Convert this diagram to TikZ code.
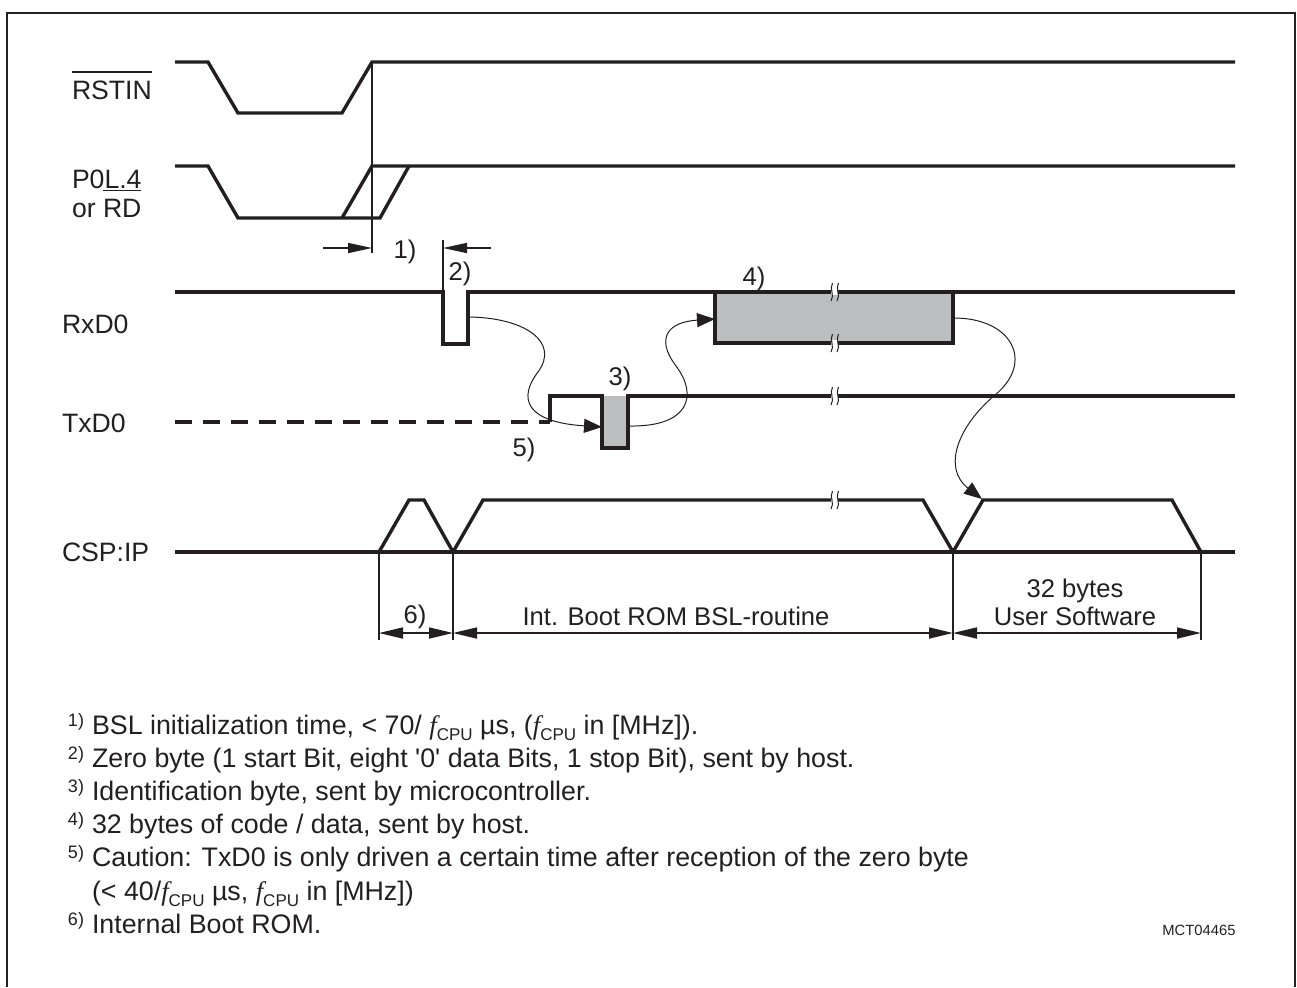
\documentclass[tikz,border=0pt]{standalone}
\usepackage{fontspec}
\setmainfont{Liberation Sans}[Ligatures=TeXOff]
\newfontfamily\serifit{Liberation Serif}[Ligatures=TeXOff]
\usetikzlibrary{arrows.meta}
\definecolor{ink}{HTML}{231F20}
\definecolor{boxgray}{HTML}{BCBEC0}
\newcommand\ovl[1]{\vbox{\hrule height 0.8pt\kern 3.8pt\hbox{#1}}}
\newcommand\fcpu{{\serifit\itshape f}\raisebox{-3pt}{\fontsize{8.5}{9}\selectfont CPU}}
\newcommand\fnm[1]{\llap{\raisebox{3.8pt}{\fontsize{9}{9}\selectfont #1)}\hspace{4pt}}}
\tikzset{
  sig/.style={line width=1.7pt, draw=ink, line join=miter},
  thinl/.style={line width=0.85pt, draw=ink},
  curv/.style={line width=0.5pt, draw=ink, -{Triangle[length=9pt,width=7pt]}},
  dimar/.style={line width=0.85pt, draw=ink, {Triangle[length=12pt,width=5.5pt]}-{Triangle[length=12pt,width=5.5pt]}},
  onear/.style={line width=0.85pt, draw=ink, -{Triangle[length=12pt,width=5pt]}},
  lbl/.style={anchor=base west, inner sep=0pt, outer sep=0pt, text=ink, font=\fontsize{13.3}{16}\selectfont},
  dlbl/.style={anchor=base, inner sep=0pt, outer sep=0pt, text=ink, font=\fontsize{12.8}{15}\selectfont},
  fn/.style={anchor=base west, inner sep=0pt, outer sep=0pt, text=ink, font=\fontsize{13.4}{16}\selectfont},
  brkmark/.pic={
    \fill[white] (-3.5,-3) rectangle (3.5,3);
    \draw[ink, line width=0.5pt] (-1.5,-9) .. controls (-5,-3) and (1,3) .. (-3,9);
    \draw[ink, line width=0.5pt] (4.5,-9) .. controls (1,-3) and (7,3) .. (3,9);
  }
}
\begin{document}
\begin{tikzpicture}[x=0.5pt, y=-0.5pt]
\useasboundingbox (0,0) rectangle (1297,987);
% frame
\draw[ink, line width=1.3pt] (7,987) -- (7,13) -- (1295,13) -- (1295,987);

% signal labels
\node[lbl] (rstin) at (72,99) {\ovl{RSTIN}};
\node[lbl] (p0l) at (72,188) {P0L.4};
\node[lbl] (ord) at (72,217) {or \ovl{RD}};
\node[lbl] (rxd) at (62,333) {RxD0};
\node[lbl] (txd) at (62,432) {TxD0};
\node[lbl] (csp) at (62,561) {CSP:IP};

% RSTIN
\draw[sig] (175,62) -- (208,62) -- (238,113) -- (342,113) -- (372,62) -- (1235,62);
\draw[thinl] (372,62) -- (372,253);

% P0L.4 / RD
\draw[sig] (175,166) -- (208,166) -- (238,218) -- (380,218) -- (409,166);
\draw[sig] (342,218) -- (372,166) -- (1235,166);

% 1) and 2) markers
\coordinate (a1s) at (323,248);
\coordinate (a1e) at (372,248);
\draw[onear] (a1s) -- (a1e);
\node[dlbl] (l1) at (405,258) {1)};
\coordinate (a2s) at (491,248);
\coordinate (a2e) at (443,248);
\draw[onear] (a2s) -- (a2e);
\draw[thinl] (443,240) -- (443,292);
\node[dlbl] (l2) at (460,280) {2)};

% RxD0
\draw[sig] (175,292) -- (443,292) -- (443,344) -- (468,344) -- (468,292) -- (1235,292);
\draw[sig, fill=boxgray] (715,292) rectangle (953,343);
\node[dlbl] (l4) at (754,285) {4)};

% TxD0
\draw[sig, dash pattern=on 8.5pt off 5.5pt] (175,422) -- (550,422);
\fill[boxgray] (602,396) rectangle (628,448);
\draw[sig] (550,422) -- (550,396) -- (602,396) -- (602,448) -- (628,448) -- (628,396) -- (1235,396);
\node[dlbl] (l3) at (620,385) {3)};
\node[dlbl] (l5) at (524,456) {5)};

% CSP:IP
\draw[sig] (175,552) -- (1235,552);
\draw[sig] (379,552) -- (409,500) -- (424,500) -- (453,552) -- (483,500) -- (923,500) -- (953,552) -- (983,500) -- (1172,500) -- (1201,552);

% break marks
\pic at (834,292) {brkmark};
\pic at (834,343) {brkmark};
\pic at (834,396) {brkmark};
\pic at (834,500) {brkmark};

% curved arrows
\coordinate (c1s) at (470,317);
\coordinate (c1e) at (602,427);
\draw[curv] (c1s) .. controls (525,318) and (560,342) .. (538,372) .. controls (518,398) and (525,422) .. (c1e);
\coordinate (c2s) at (629,426);
\coordinate (c2e) at (715,319);
\draw[curv] (c2s) .. controls (690,427) and (698,395) .. (676,366) .. controls (655,338) and (668,322) .. (c2e);
\coordinate (c3s) at (954,318);
\coordinate (c3e) at (982,499);
\draw[curv] (c3s) .. controls (1012,318) and (1035,362) .. (995,395) .. controls (958,426) and (942,468) .. (c3e);

% dimension lines
\draw[thinl] (379,552) -- (379,640);
\draw[thinl] (453,552) -- (453,640);
\draw[thinl] (953,552) -- (953,640);
\draw[thinl] (1201,552) -- (1201,640);
\coordinate (d1) at (379,633);
\coordinate (d2) at (453,633);
\coordinate (d3) at (953,633);
\coordinate (d4) at (1201,633);
\draw[dimar] (d1) -- (d2);
\draw[dimar] (d2) -- (d3);
\draw[dimar] (d3) -- (d4);
\node[dlbl] (l6) at (415,623) {6)};
\node[dlbl] (lint) at (676,625) {Int. Boot ROM BSL-routine};
\node[dlbl] (l32a) at (1075,597) {32 bytes};
\node[dlbl] (l32b) at (1075,625) {User Software};

% footnotes
\node[fn] (f1) at (92,734) {\fnm{1}BSL initialization time, < 70/ \fcpu{} µs, (\fcpu{} in [MHz]).};
\node[fn] (f2) at (92,767) {\fnm{2}Zero byte (1 start Bit, eight '0' data Bits, 1 stop Bit), sent by host.};
\node[fn] (f3) at (92,800) {\fnm{3}Identification byte, sent by microcontroller.};
\node[fn] (f4) at (92,833) {\fnm{4}32 bytes of code / data, sent by host.};
\node[fn] (f5) at (92,866) {\fnm{5}Caution: TxD0 is only driven a certain time after reception of the zero byte};
\node[fn] (f5b) at (92,900) {(< 40/\fcpu{} µs, \fcpu{} in [MHz])};
\node[fn] (f6) at (92,933) {\fnm{6}Internal Boot ROM.};
\node[anchor=base east, inner sep=0pt, text=ink, font=\fontsize{7.4}{9}\selectfont] (mct) at (1236,935) {MCT04465};
\end{tikzpicture}
\end{document}
